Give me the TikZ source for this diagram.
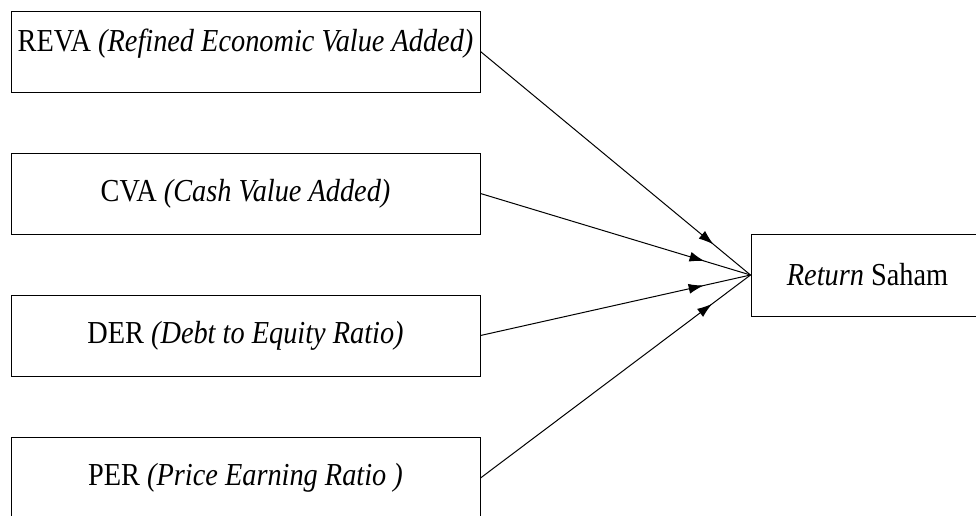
\documentclass[tikz,border=0pt]{standalone}
\usepackage{fontspec}
\setmainfont[FakeStretch=0.885]{Liberation Serif}
\usetikzlibrary{arrows.meta,decorations.markings}
\begin{document}
\begin{tikzpicture}[x=1pt,y=-1pt,
  box/.style={draw=black,line width=1pt,minimum width=469pt,minimum height=81pt,inner sep=0pt,
    font=\fontsize{32}{38}\selectfont},
  link/.style={line width=1pt,postaction={decorate},
    decoration={markings,mark=at position -48pt with {\arrow{Latex[length=15pt,width=10pt]}}}}]
\useasboundingbox (0,0) rectangle (976,515);
\clip (0,0) rectangle (976,515);
\node[box,text depth=22pt] (reva) at (245.5,51.5) {REVA \textit{(Refined Economic Value Added)}};
\node[box] (cva) at (245.5,193.5) {CVA \textit{(Cash Value Added)}};
\node[box] (der) at (245.5,335.5) {DER \textit{(Debt to Equity Ratio)}};
\node[box] (per) at (245.5,478) {PER \textit{(Price Earning Ratio )}};
\node[box,minimum width=233pt,minimum height=82pt] (ret) at (867.5,275) {\textit{Return} Saham};
\draw[link] (reva.east) -- (ret.west);
\draw[link] (cva.east) -- (ret.west);
\draw[link] (der.east) -- (ret.west);
\draw[link] (per.east) -- (ret.west);
\end{tikzpicture}
\end{document}
